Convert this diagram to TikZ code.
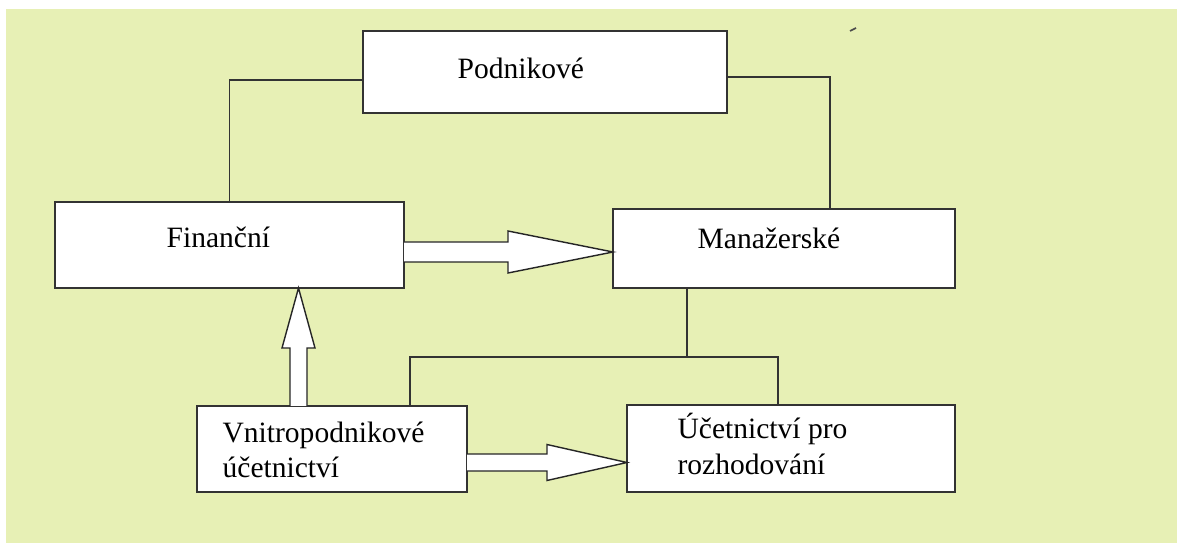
\documentclass[tikz,border=0pt]{standalone}
\usepackage{fontspec}
\setmainfont{Liberation Serif}
\usetikzlibrary{calc}

\definecolor{pagebg}{RGB}{231,240,181}

\begin{document}
\begin{tikzpicture}[x=0.025cm, y=-0.025cm, line width=0.9pt, draw=black!80,
  box/.style={draw=black!80, fill=white, inner sep=0pt, outer sep=0pt},
  lbl/.style={inner sep=0pt, anchor=base west, font=\fontsize{21}{25}\selectfont},
  hollow/.style={draw=black!85, fill=white, line width=1pt, line join=miter}]
\useasboundingbox (0,0) rectangle (1177,543);
\fill[pagebg] (6,9) rectangle (1177,543);
\draw[black!70, line width=1.2pt] (850,31) -- (856,28);
% boxes
\node[box, minimum width=9.1cm, minimum height=2.05cm] (pod) at (545,72) {};
\node[box, minimum width=8.725cm, minimum height=2.15cm] (fin) at (229.5,245) {};
\node[box, minimum width=8.55cm, minimum height=1.975cm] (man) at (784,248.5) {};
\node[box, minimum width=6.75cm, minimum height=2.15cm] (vni) at (332,449) {};
\node[box, minimum width=8.2cm, minimum height=2.175cm] (uce) at (791,448.5) {};
\node[lbl] (podt) at (457,79) {Podnikové};
\node[lbl] (fint) at (166,248) {Finanční};
\node[lbl] (mant) at (697,249) {Manažerské};
\node[lbl, align=left, anchor=north west] (vnit) at (222,421) {Vnitropodnikové\\účetnictví};
\node[lbl, align=left, anchor=north west] (ucet) at (677,413) {Účetnictví pro\\rozhodování};
% plain lines
\draw (fin.north) |- ($(pod.west)+(0,8)$);
\draw ($(pod.east)+(0,5)$) -| ($(man.north)+(46,0)$);
\coordinate (bus) at (687,357); \coordinate (busL) at (410,357); \coordinate (busR) at (778,357);
\draw (man.south -| bus) -- (bus);
\draw (vni.north -| busL) -- (busL) -- (busR) -- (uce.north -| busR);
% hollow arrows
\coordinate (a1s) at ($(fin.east)+(0,7)$); \coordinate (a1e) at (a1s -| man.west);
\draw[hollow] ($(a1s)+(0,-10)$) -- ($(a1e)+(-105,-10)$) -- ($(a1e)+(-105,-21)$) -- (a1e)
  -- ($(a1e)+(-105,21)$) -- ($(a1e)+(-105,10)$) -- ($(a1s)+(0,10)$);
\coordinate (a2s) at ($(vni.east)+(0,13.5)$); \coordinate (a2e) at (a2s -| uce.west);
\draw[hollow] ($(a2s)+(0,-8.5)$) -- ($(a2e)+(-80,-8.5)$) -- ($(a2e)+(-80,-18)$) -- (a2e)
  -- ($(a2e)+(-80,18)$) -- ($(a2e)+(-80,8.5)$) -- ($(a2s)+(0,8.5)$);
\coordinate (a3s) at ($(vni.north)+(-33.5,0)$); \coordinate (a3e) at (a3s |- fin.south);
\draw[hollow] ($(a3s)+(-8.5,0)$) -- ($(a3e)+(-8.5,60)$) -- ($(a3e)+(-16.5,60)$) -- (a3e)
  -- ($(a3e)+(16.5,60)$) -- ($(a3e)+(8.5,60)$) -- ($(a3s)+(8.5,0)$);
\end{tikzpicture}
\end{document}
